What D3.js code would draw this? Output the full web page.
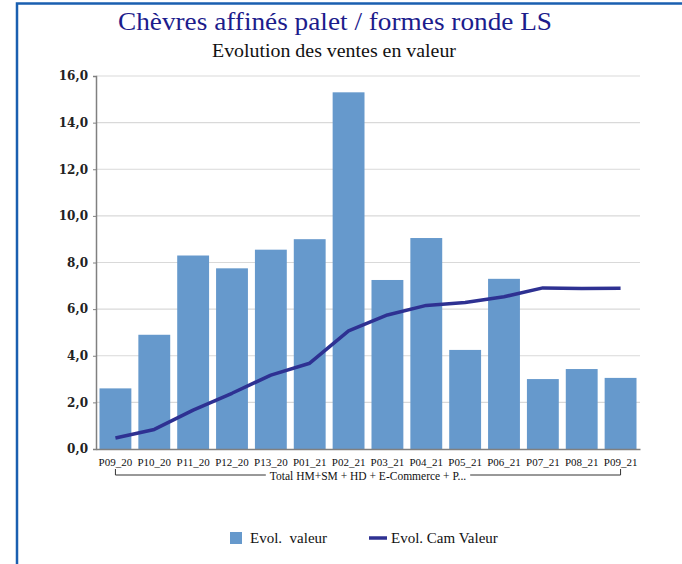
<!DOCTYPE html>
<html><head><meta charset="utf-8">
<script src="https://cdn.jsdelivr.net/npm/d3@7"></script>
<style>body{margin:0;background:#fff}svg{display:block}</style>
</head><body>
<svg id="c" width="682" height="564"></svg>
<script>
const categories = ["P09_20","P10_20","P11_20","P12_20","P13_20","P01_21","P02_21","P03_21","P04_21","P05_21","P06_21","P07_21","P08_21","P09_21"];
const evolValeur = [2.6,4.9,8.3,7.75,8.55,9.0,15.3,7.25,9.05,4.25,7.3,3.0,3.43,3.05];
const evolCam = [0.47,0.84,1.67,2.39,3.17,3.68,5.07,5.75,6.16,6.28,6.53,6.91,6.88,6.9];
const yTicks = [0,2,4,6,8,10,12,14,16];
const groupLabel = "Total HM+SM + HD + E-Commerce + P...";
const title = "Chèvres affinés palet / formes ronde LS";
const subtitle = "Evolution des ventes en valeur";
const legendLabels = ["Evol.  valeur","Evol. Cam Valeur"];

const svg = d3.select("#c");
const serif = "'DejaVu Serif', serif";
const L = 96, R = 640, T = 76, B = 449;

// frame
svg.append("path").attr("d","M17,564 L17,3.5 L682,3.5").attr("fill","none")
  .attr("stroke","#1a5fb0").attr("stroke-width",2.5);

svg.append("text").attr("x",335).attr("y",30).attr("text-anchor","middle")
  .attr("font-family","'Liberation Serif', serif").attr("font-size",25).attr("fill","#1c1c8c")
  .attr("textLength",434).attr("lengthAdjust","spacingAndGlyphs").text(title);
svg.append("text").attr("x",334).attr("y",57).attr("text-anchor","middle")
  .attr("font-family","'Liberation Serif', serif").attr("font-size",18).attr("fill","#111")
  .attr("textLength",244).attr("lengthAdjust","spacingAndGlyphs").text(subtitle);

const x = d3.scaleBand().domain(categories).range([L,R]).paddingInner(0.18).paddingOuter(0.09);
const y = d3.scaleLinear().domain([0,16]).range([B,T]);

// grid
svg.append("g").selectAll("line").data(yTicks.filter(d=>d>0)).join("line")
  .attr("x1",L).attr("x2",R).attr("y1",d=>y(d)).attr("y2",d=>y(d))
  .attr("stroke","#d9d9d9").attr("stroke-width",1.2);

// bars
svg.append("g").selectAll("rect").data(evolValeur).join("rect")
  .attr("x",(d,i)=>x(categories[i])).attr("width",x.bandwidth())
  .attr("y",d=>y(d)).attr("height",d=>B-y(d)).attr("fill","#6699cc");

// y axis
const ya = svg.append("g").attr("transform",`translate(${L},0)`)
  .call(d3.axisLeft(y).tickValues(yTicks).tickSize(3).tickPadding(5).tickFormat(d=>d3.format(".1f")(d).replace(".",",")));
ya.select(".domain").attr("stroke","#808080").attr("stroke-width",1.5);
ya.selectAll(".tick line").attr("stroke","#808080");
ya.selectAll("text").attr("font-family",serif).attr("font-size",12).attr("font-weight","bold").attr("fill","#222");

// x axis
const xa = svg.append("g").attr("transform",`translate(0,${B})`)
  .call(d3.axisBottom(x).tickSize(0).tickPadding(9));
xa.select(".domain").attr("stroke","#808080").attr("stroke-width",1.5);
xa.selectAll("text").attr("font-family","'Liberation Serif', serif").attr("font-size",11).attr("fill","#111");

// group bracket
const gx1 = x(categories[0]) + x.bandwidth()/2, gx2 = x(categories[categories.length-1]) + x.bandwidth()/2;
const gy = 475;
const gt = svg.append("text").attr("x",(gx1+gx2)/2).attr("y",gy+5).attr("text-anchor","middle")
  .attr("font-family","'Liberation Serif', serif").attr("font-size",11.5).attr("fill","#111").text(groupLabel);
const tw = gt.node().getComputedTextLength();
svg.append("path").attr("fill","none").attr("stroke","#333").attr("stroke-width",1)
  .attr("d",`M${gx1},469 L${gx1},${gy} L${(gx1+gx2)/2 - tw/2 - 4},${gy} M${(gx1+gx2)/2 + tw/2 + 4},${gy} L${gx2},${gy} L${gx2},469`);

// line
const line = d3.line().x((d,i)=>x(categories[i])+x.bandwidth()/2).y(d=>y(d));
svg.append("path").datum(evolCam).attr("d",line).attr("fill","none")
  .attr("stroke","#2e3192").attr("stroke-width",3.5).attr("stroke-linejoin","round");

// legend
const lg = svg.append("g");
lg.append("rect").attr("x",230).attr("y",532).attr("width",12).attr("height",12).attr("fill","#6699cc");
lg.append("text").attr("x",250).attr("y",543).attr("font-family","'Liberation Serif', serif").attr("font-size",15).attr("fill","#111").style("white-space","pre").text(legendLabels[0]);
lg.append("line").attr("x1",369).attr("x2",387).attr("y1",538).attr("y2",538).attr("stroke","#2e3192").attr("stroke-width",3.5);
lg.append("text").attr("x",391).attr("y",543).attr("font-family","'Liberation Serif', serif").attr("font-size",15).attr("fill","#111").text(legendLabels[1]);
</script>
</body></html>
